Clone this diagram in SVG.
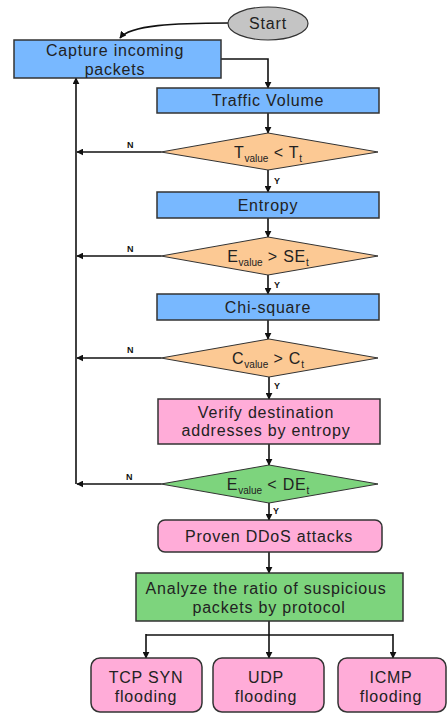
<svg xmlns="http://www.w3.org/2000/svg" width="447" height="714" viewBox="0 0 447 714">
<style>
.t{font-family:"Liberation Sans",Arial,sans-serif;font-size:16px;letter-spacing:0.8px;fill:#222;text-anchor:middle}
.s{font-size:10px;letter-spacing:0}
.lb{font-family:"Liberation Sans",Arial,sans-serif;font-size:9px;font-weight:bold;fill:#111}
.blue{fill:#78B8FF;stroke:#333;stroke-width:1.5}
.pink{fill:#FFACD8;stroke:#333;stroke-width:1.5}
.green{fill:#7DD47D;stroke:#333;stroke-width:1.5}
.orange{fill:#FCC994;stroke:#333;stroke-width:1}
.gd{fill:#7DD47D;stroke:#333;stroke-width:1}
.c{fill:none;stroke:#111;stroke-width:1.6}
</style>
<defs>
<marker id="a" viewBox="0 0 10 10" refX="9" refY="5" markerWidth="7" markerHeight="7" markerUnits="userSpaceOnUse" orient="auto">
<path d="M0,0 L10,5 L0,10 z" fill="#111"/>
</marker>
</defs>
<g id="connectors">
<path class="c" d="M228,23 C175,23 130,25 120,38" marker-end="url(#a)"/>
<path class="c" d="M221,59 H268 V88" marker-end="url(#a)"/>
<path class="c" d="M268,113 V133" marker-end="url(#a)"/>
<path class="c" d="M268,170 V192" marker-end="url(#a)"/>
<path class="c" d="M268,218 V237" marker-end="url(#a)"/>
<path class="c" d="M268,275 V294" marker-end="url(#a)"/>
<path class="c" d="M268,320 V339" marker-end="url(#a)"/>
<path class="c" d="M269,377 V399" marker-end="url(#a)"/>
<path class="c" d="M269,444 V465" marker-end="url(#a)"/>
<path class="c" d="M269,503 V520" marker-end="url(#a)"/>
<path class="c" d="M269,552 V573" marker-end="url(#a)"/>
<path class="c" d="M161,152 H77" marker-end="url(#a)"/>
<path class="c" d="M161,256 H77" marker-end="url(#a)"/>
<path class="c" d="M161,358 H77" marker-end="url(#a)"/>
<path class="c" d="M161,484 H77" marker-end="url(#a)"/>
<path class="c" d="M76,484 V78" marker-end="url(#a)"/>
<path class="c" d="M269,621 V658" marker-end="url(#a)"/>
<path class="c" d="M146,635 H393"/>
<path class="c" d="M146,634 V658" marker-end="url(#a)"/>
<path class="c" d="M393,634 V658" marker-end="url(#a)"/>
<text class="lb" x="127" y="148">N</text>
<text class="lb" x="127" y="252">N</text>
<text class="lb" x="127" y="353">N</text>
<text class="lb" x="126" y="480">N</text>
<text class="lb" x="274" y="184">Y</text>
<text class="lb" x="274" y="288">Y</text>
<text class="lb" x="274" y="389">Y</text>
<text class="lb" x="273" y="514">Y</text>
</g>
<g id="start">
<ellipse cx="268" cy="23.5" rx="40" ry="16.5" fill="#C4C4C4" stroke="#333" stroke-width="1.2"/>
<text class="t" x="268" y="29">Start</text>
</g>
<g id="capture">
<rect class="blue" x="14" y="40" width="207" height="38"/>
<text class="t" x="115" y="56">Capture incoming</text>
<text class="t" x="115" y="75">packets</text>
</g>
<g id="traffic">
<rect class="blue" x="157" y="88" width="222" height="25"/>
<text class="t" x="268" y="106">Traffic Volume</text>
</g>
<g id="d1">
<polygon class="orange" points="268,133 378,152 268,170 161,152"/>
<text class="t" x="268" y="158">T<tspan class="s" dy="4">value</tspan><tspan dy="-4"> &lt; T</tspan><tspan class="s" dy="4">t</tspan></text>
</g>
<g id="entropy">
<rect class="blue" x="157" y="192" width="222" height="26"/>
<text class="t" x="268" y="211">Entropy</text>
</g>
<g id="d2">
<polygon class="orange" points="268,237 378,256 268,275 161,256"/>
<text class="t" x="268" y="262">E<tspan class="s" dy="4">value</tspan><tspan dy="-4"> &gt; SE</tspan><tspan class="s" dy="4">t</tspan></text>
</g>
<g id="chi">
<rect class="blue" x="157" y="294" width="222" height="26"/>
<text class="t" x="268" y="313">Chi-square</text>
</g>
<g id="d3">
<polygon class="orange" points="269,339 378,358 269,377 161,358"/>
<text class="t" x="268" y="364">C<tspan class="s" dy="4">value</tspan><tspan dy="-4"> &gt; C</tspan><tspan class="s" dy="4">t</tspan></text>
</g>
<g id="verify">
<rect class="pink" x="158" y="399" width="222" height="45"/>
<text class="t" x="266" y="418">Verify destination</text>
<text class="t" x="266" y="436">addresses by entropy</text>
</g>
<g id="d4">
<polygon class="gd" points="269,465 378,484 269,503 161,484"/>
<text class="t" x="268" y="490">E<tspan class="s" dy="4">value</tspan><tspan dy="-4"> &lt; DE</tspan><tspan class="s" dy="4">t</tspan></text>
</g>
<g id="proven">
<rect class="pink" x="158" y="520" width="224" height="32" rx="7"/>
<text class="t" x="269" y="542">Proven DDoS attacks</text>
</g>
<g id="analyze">
<rect class="green" x="136" y="573" width="267" height="48"/>
<text class="t" x="266" y="594">Analyze the ratio of suspicious</text>
<text class="t" x="269" y="613">packets by protocol</text>
</g>
<g id="tcp">
<rect class="pink" x="91" y="658" width="111" height="54" rx="9"/>
<text class="t" x="146" y="683">TCP SYN</text>
<text class="t" x="146" y="702">flooding</text>
</g>
<g id="udp">
<rect class="pink" x="213" y="658" width="111" height="54" rx="9"/>
<text class="t" x="266" y="683">UDP</text>
<text class="t" x="266" y="702">flooding</text>
</g>
<g id="icmp">
<rect class="pink" x="338" y="658" width="108" height="54" rx="9"/>
<text class="t" x="391" y="683">ICMP</text>
<text class="t" x="391" y="702">flooding</text>
</g>
</svg>
